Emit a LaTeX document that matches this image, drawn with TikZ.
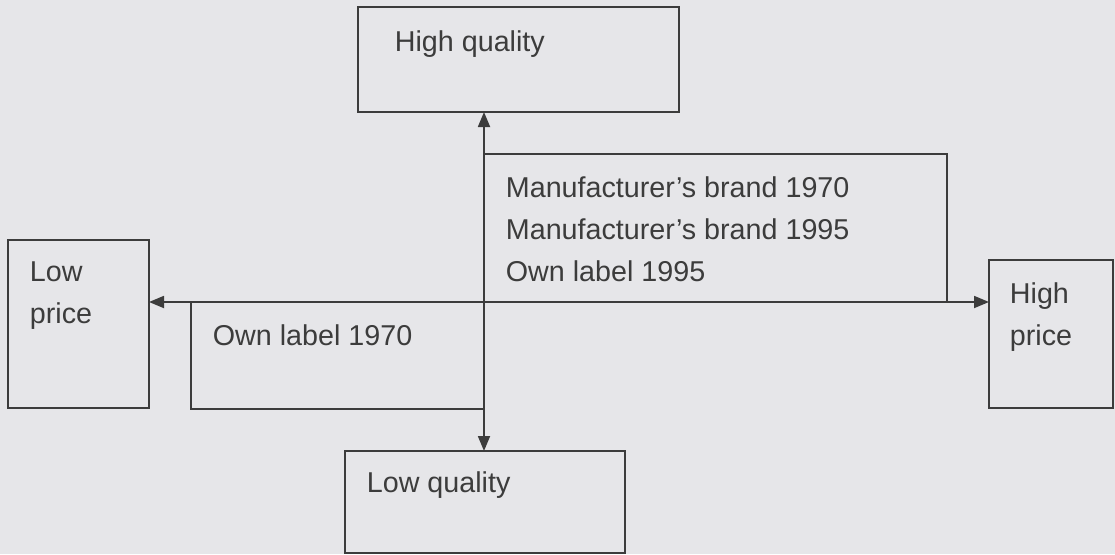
\documentclass[tikz,border=0pt]{standalone}
\usepackage{fontspec}
\setmainfont{Liberation Sans}
\usetikzlibrary{arrows.meta}
\definecolor{paper}{HTML}{E6E6E9}
\definecolor{ink}{HTML}{3C3C3C}
\tikzset{
  box/.style={draw, rectangle, anchor=north west, inner sep=0pt, outer sep=0pt},
  lbl/.style={font=\fontsize{28.7}{41.7}\selectfont, inner sep=0pt, align=left},
}
\begin{document}
\begin{tikzpicture}[x=1pt, y=-1pt, color=ink, line width=1.8pt, >={Triangle[length=15pt,width=12pt]}]
\useasboundingbox (0,0) rectangle (1115,554);
\fill[paper] (0,0) rectangle (1115,554);

\node[box, minimum width=321, minimum height=105](hq) at (358,7) {};
\node[box, minimum width=463, minimum height=148](mf) at (484,154) {};
\node[box, minimum width=141, minimum height=168](lp) at (8,240) {};
\node[box, minimum width=124, minimum height=148](hp) at (989,260) {};
\node[box, minimum width=293, minimum height=107](ol) at (191,302) {};
\node[box, minimum width=280, minimum height=102](lq) at (345,451) {};

\node[lbl, anchor=base west](hqtext) at (394,51) {High quality};
\node[lbl, anchor=north west](mftext) at (505,176) {Manufacturer’s brand 1970\\Manufacturer’s brand 1995\\Own label 1995};
\node[lbl, anchor=north west](lptext) at (29,261) {Low\\price};
\node[lbl, anchor=north west](hptext) at (1009,282) {High\\price};
\node[lbl, anchor=base west](oltext) at (212,345) {Own label 1970};
\node[lbl, anchor=base west](lqtext) at (366,492) {Low quality};

\draw[<->] (hq.south -| mf.north west) -- (lq.north -| mf.north west);
\draw[<->] (lp.east |- mf.south) -- (hp.west |- mf.south);
\end{tikzpicture}
\end{document}
